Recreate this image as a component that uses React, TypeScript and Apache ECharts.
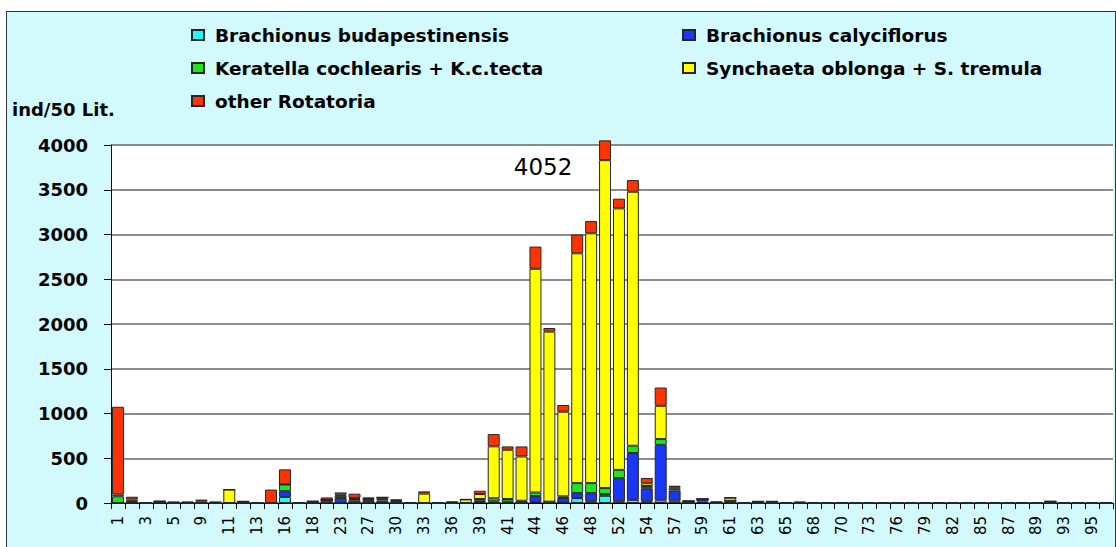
import React, { useEffect, useRef } from "react";
import * as echarts from "echarts";

const categories = [
  "1", "2", "3", "4", "5", "7", "9", "10", "11", "12", "13", "15", "16", "17", "18", "21",
  "23", "25", "27", "28", "30", "31", "33", "34", "36", "38", "39", "40", "41", "43", "44", "45",
  "46", "47", "48", "50", "52", "53", "54", "56", "57", "58", "59", "60", "61", "62", "63", "64",
  "65", "67", "68", "69", "70", "72", "73", "74", "76", "77", "79", "80", "82", "83", "85", "86",
  "87", "88", "89", "91", "93", "94", "95", "96",
];

const budapestinensis = [
  0, 0, 0, 0, 0, 0, 0, 0, 0, 0, 0, 0, 68, 0, 0, 0,
  0, 0, 0, 0, 0, 0, 0, 0, 0, 0, 10, 3, 5, 0, 12, 0,
  5, 55, 20, 80, 20, 35, 20, 30, 25, 0, 15, 0, 0, 0, 0, 0,
  0, 0, 0, 0, 0, 0, 0, 0, 0, 0, 0, 0, 0, 0, 0, 0,
  0, 0, 0, 0, 0, 0, 0, 0,
];

const calyciflorus = [
  0, 8, 0, 18, 0, 0, 0, 0, 0, 0, 0, 0, 64, 0, 0, 35,
  55, 30, 28, 28, 5, 0, 0, 0, 0, 0, 15, 15, 10, 5, 65, 15,
  50, 55, 90, 20, 258, 523, 145, 620, 115, 20, 28, 0, 25, 0, 0, 0,
  0, 0, 0, 0, 0, 0, 0, 0, 0, 0, 0, 0, 0, 0, 0, 0,
  0, 0, 0, 0, 0, 0, 0, 0,
];

const keratella = [
  75, 12, 0, 0, 0, 0, 0, 0, 0, 0, 0, 0, 75, 0, 0, 0,
  25, 15, 8, 18, 0, 0, 0, 0, 0, 0, 20, 35, 30, 20, 40, 0,
  20, 112, 112, 67, 92, 82, 25, 64, 20, 0, 0, 0, 0, 0, 0, 0,
  0, 0, 0, 0, 0, 0, 0, 0, 0, 0, 0, 0, 0, 0, 0, 0,
  0, 0, 0, 18, 0, 0, 0, 0,
];

const synchaeta = [
  20, 20, 0, 0, 0, 0, 18, 0, 150, 18, 0, 0, 0, 0, 20, 0,
  13, 12, 8, 17, 17, 0, 105, 0, 0, 40, 55, 580, 550, 495, 2500, 1900,
  945, 2568, 2791, 3664, 2922, 2838, 30, 372, 15, 0, 0, 0, 35, 0, 18, 18,
  0, 0, 0, 0, 0, 0, 0, 0, 0, 0, 0, 0, 0, 0, 0, 0,
  0, 0, 0, 0, 0, 0, 0, 0,
];

const otherRotatoria = [
  980, 30, 0, 0, 18, 18, 20, 18, 0, 0, 0, 150, 169, 0, 0, 27,
  25, 47, 19, 0, 20, 0, 25, 0, 20, 0, 37, 137, 37, 112, 248, 40,
  75, 210, 137, 221, 108, 130, 60, 204, 18, 0, 0, 20, 0, 0, 0, 0,
  0, 18, 0, 0, 0, 0, 0, 0, 0, 0, 0, 0, 0, 0, 0, 0,
  0, 0, 0, 0, 0, 0, 0, 0,
];

const seriesNames = [
  "Brachionus budapestinensis",
  "Brachionus calyciflorus",
  "Keratella cochlearis + K.c.tecta",
  "Synchaeta oblonga + S. tremula",
  "other Rotatoria",
];
const seriesColors = ["#1EFAFA", "#1A37F5", "#1EE61E", "#FFFF00", "#FF3300"];
const yTicks = { min: 0, max: 4000, interval: 500 };

const FONT = '"DejaVu Sans", "Liberation Sans", sans-serif';

export default function App() {
  const ref = useRef<HTMLDivElement>(null);

  useEffect(() => {
    if (!ref.current) return;
    const chart = echarts.init(ref.current, undefined, { renderer: "svg" });
    const values = [budapestinensis, calyciflorus, keratella, synchaeta, otherRotatoria];
    const totals = categories.map((_, i) => values.reduce((s, arr) => s + arr[i], 0));
    let peak = 0;
    totals.forEach((t, i) => {
      if (t > totals[peak]) peak = i;
    });

    const legendText = {
      fontSize: 18.5,
      fontWeight: "bold" as const,
      fontFamily: FONT,
      color: "#000",
      lineHeight: 20,
      padding: [0, 0, 0, 6],
    };

    const series = values.map((arr, k) => ({
      name: seriesNames[k],
      type: "bar" as const,
      stack: "total",
      data: arr,
      barCategoryGap: "14%",
      clip: false,
      itemStyle: { color: seriesColors[k], borderColor: "#262626", borderWidth: 1 },
      emphasis: { disabled: true },
      ...(k === values.length - 1
        ? {
            markPoint: {
              symbol: "circle",
              symbolSize: 1,
              itemStyle: { color: "rgba(0,0,0,0)" },
              data: [
                {
                  coord: [categories[peak], Math.min(totals[peak], yTicks.max)],
                  value: totals[peak],
                },
              ],
              label: {
                show: true,
                formatter: String(totals[peak]),
                position: "inside",
                offset: [-62, 22],
                fontSize: 23,
                fontFamily: FONT,
                color: "#000",
              },
            },
          }
        : {}),
    }));

    chart.setOption({
      animation: false,
      textStyle: { fontFamily: FONT },
      grid: {
        left: 104,
        top: 133,
        width: 1002,
        height: 358,
        show: true,
        backgroundColor: "#ffffff",
        borderWidth: 0,
        containLabel: false,
      },
      legend: [
        {
          data: [seriesNames[0], seriesNames[2], seriesNames[4]],
          orient: "vertical",
          left: 184,
          top: 13,
          padding: 0,
          itemWidth: 12,
          itemHeight: 10,
          itemGap: 13,
          icon: "rect",
          selectedMode: false,
          textStyle: legendText,
        },
        {
          data: [seriesNames[1], seriesNames[3]],
          orient: "vertical",
          left: 675,
          top: 13,
          padding: 0,
          itemWidth: 12,
          itemHeight: 10,
          itemGap: 13,
          icon: "rect",
          selectedMode: false,
          textStyle: legendText,
        },
      ],
      graphic: [
        {
          type: "text",
          left: 5,
          top: 88,
          style: { text: "ind/50 Lit.", font: `bold 18px ${FONT}`, fill: "#000" },
        },
      ],
      xAxis: {
        type: "category",
        data: categories,
        boundaryGap: true,
        axisLine: { show: true, lineStyle: { color: "#000", width: 1 } },
        axisTick: { show: true, interval: 0, length: 6, lineStyle: { color: "#000" } },
        axisLabel: {
          show: true,
          interval: 1,
          rotate: 90,
          align: "right",
          verticalAlign: "middle",
          margin: 13,
          fontSize: 15,
          fontFamily: FONT,
          color: "#000",
        },
        splitLine: { show: false },
      },
      yAxis: {
        type: "value",
        min: yTicks.min,
        max: yTicks.max,
        interval: yTicks.interval,
        axisLine: { show: true, lineStyle: { color: "#000", width: 1 } },
        axisTick: { show: true, length: 7, lineStyle: { color: "#000" } },
        axisLabel: {
          margin: 23,
          fontSize: 18,
          fontWeight: "bold",
          fontFamily: FONT,
          color: "#000",
          formatter: (v: number) => String(v),
        },
        splitLine: { show: true, lineStyle: { color: "#666", width: 1.5 } },
      },
      series,
    });
    return () => chart.dispose();
  }, []);

  return (
    <div
      ref={ref}
      style={{
        position: "absolute",
        left: 6,
        top: 11,
        width: 1108,
        height: 540,
        border: "1px solid #333",
        background: "#D2FAFC",
      }}
    />
  );
}
